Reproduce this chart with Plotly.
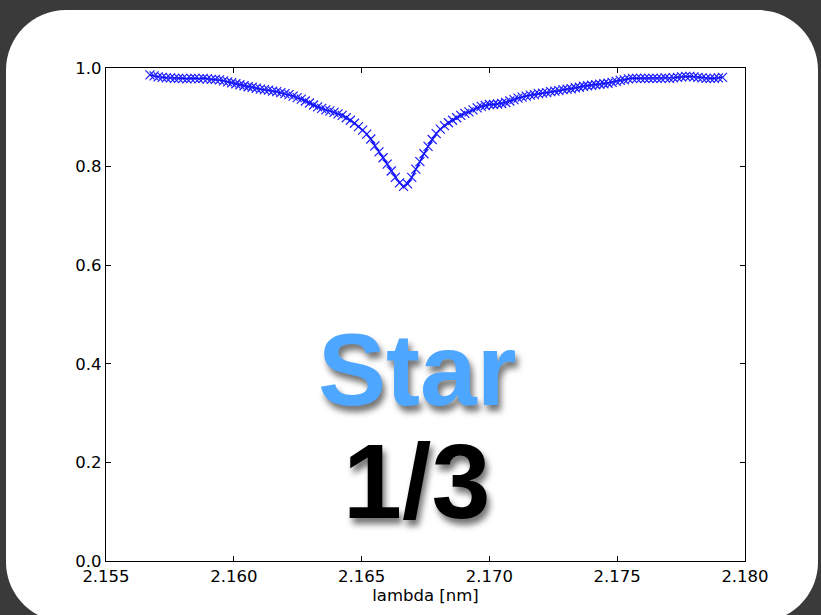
import plotly.graph_objects as go

# ---- data ----
wavelength_nm = [
    2.15672, 2.15688, 2.15704, 2.15720, 2.15736, 2.15752, 2.15768, 2.15784, 2.15800, 2.15816,
    2.15832, 2.15848, 2.15864, 2.15880, 2.15896, 2.15912, 2.15928, 2.15944, 2.15960, 2.15976,
    2.15992, 2.16008, 2.16024, 2.16040, 2.16056, 2.16072, 2.16088, 2.16104, 2.16120, 2.16136,
    2.16152, 2.16168, 2.16184, 2.16200, 2.16216, 2.16232, 2.16248, 2.16264, 2.16280, 2.16296,
    2.16312, 2.16328, 2.16344, 2.16360, 2.16376, 2.16392, 2.16408, 2.16424, 2.16440, 2.16456,
    2.16472, 2.16488, 2.16504, 2.16520, 2.16536, 2.16552, 2.16568, 2.16584, 2.16600, 2.16616,
    2.16632, 2.16648, 2.16664, 2.16680, 2.16696, 2.16712, 2.16728, 2.16744, 2.16760, 2.16776,
    2.16792, 2.16808, 2.16824, 2.16840, 2.16856, 2.16872, 2.16888, 2.16904, 2.16920, 2.16936,
    2.16952, 2.16968, 2.16984, 2.17000, 2.17016, 2.17032, 2.17048, 2.17064, 2.17080, 2.17096,
    2.17112, 2.17128, 2.17144, 2.17160, 2.17176, 2.17192, 2.17208, 2.17224, 2.17240, 2.17256,
    2.17272, 2.17288, 2.17304, 2.17320, 2.17336, 2.17352, 2.17368, 2.17384, 2.17400, 2.17416,
    2.17432, 2.17448, 2.17464, 2.17480, 2.17496, 2.17512, 2.17528, 2.17544, 2.17560, 2.17576,
    2.17592, 2.17608, 2.17624, 2.17640, 2.17656, 2.17672, 2.17688, 2.17704, 2.17720, 2.17736,
    2.17752, 2.17768, 2.17784, 2.17800, 2.17816, 2.17832, 2.17848, 2.17864, 2.17880, 2.17896,
    2.17912,
]

flux = [
    0.986, 0.984, 0.982, 0.981, 0.980, 0.980, 0.979, 0.979, 0.979, 0.978,
    0.979, 0.979, 0.978, 0.979, 0.978, 0.977, 0.977, 0.976, 0.974, 0.972,
    0.970, 0.968, 0.966, 0.964, 0.962, 0.961, 0.959, 0.957, 0.956, 0.955,
    0.953, 0.952, 0.950, 0.948, 0.946, 0.943, 0.940, 0.937, 0.933, 0.929,
    0.925, 0.921, 0.918, 0.915, 0.913, 0.910, 0.907, 0.904, 0.899, 0.894,
    0.888, 0.881, 0.874, 0.866, 0.856, 0.842, 0.830, 0.818, 0.805, 0.791,
    0.778, 0.767, 0.760, 0.765, 0.778, 0.795, 0.810, 0.826, 0.841, 0.855,
    0.867, 0.876, 0.883, 0.889, 0.894, 0.899, 0.904, 0.908, 0.911, 0.915,
    0.919, 0.922, 0.924, 0.926, 0.926, 0.927, 0.928, 0.930, 0.933, 0.936,
    0.939, 0.941, 0.943, 0.945, 0.946, 0.948, 0.949, 0.950, 0.952, 0.953,
    0.954, 0.956, 0.957, 0.958, 0.960, 0.961, 0.963, 0.964, 0.965, 0.966,
    0.967, 0.968, 0.969, 0.971, 0.973, 0.975, 0.976, 0.978, 0.979, 0.979,
    0.979, 0.979, 0.979, 0.979, 0.979, 0.979, 0.980, 0.979, 0.980, 0.981,
    0.982, 0.983, 0.983, 0.982, 0.981, 0.980, 0.979, 0.979, 0.979, 0.980,
    0.981,
]

x_ticks = [2.155, 2.160, 2.165, 2.170, 2.175, 2.180]
y_ticks = [0.0, 0.2, 0.4, 0.6, 0.8, 1.0]
x_title = "lambda [nm]"
overlay_title = "Star"
overlay_sub = "1/3"

# ---- layout geometry (pixels) ----
W, H = 821, 615
L, R, T, B = 106, 745, 68, 561
pw, ph = R - L, B - T


def px(xp):
    return (xp - L) / pw


def py(yp):
    return (B - yp) / ph


def rounded_rect(x0, y0, x1, y1, r):
    k = 0.5523 * r
    pts = []
    pts.append(f"M {px(x0 + r)} {py(y0)}")
    pts.append(f"L {px(x1 - r)} {py(y0)}")
    pts.append(f"C {px(x1 - r + k)} {py(y0)} {px(x1)} {py(y0 + r - k)} {px(x1)} {py(y0 + r)}")
    pts.append(f"L {px(x1)} {py(y1 - r)}")
    pts.append(f"C {px(x1)} {py(y1 - r + k)} {px(x1 - r + k)} {py(y1)} {px(x1 - r)} {py(y1)}")
    pts.append(f"L {px(x0 + r)} {py(y1)}")
    pts.append(f"C {px(x0 + r - k)} {py(y1)} {px(x0)} {py(y1 - r + k)} {px(x0)} {py(y1 - r)}")
    pts.append(f"L {px(x0)} {py(y0 + r)}")
    pts.append(f"C {px(x0)} {py(y0 + r - k)} {px(x0 + r - k)} {py(y0)} {px(x0 + r)} {py(y0)}")
    pts.append("Z")
    return " ".join(pts)


fig = go.Figure()
fig.add_trace(go.Scatter(
    x=wavelength_nm, y=flux, mode="lines+markers",
    line=dict(color="#0000ff", width=1.5),
    marker=dict(symbol="x-thin", size=9, color="#1a1aff",
                line=dict(width=1.2, color="#1a1aff")),
    showlegend=False, hoverinfo="skip",
))

fig.add_shape(type="path", xref="paper", yref="paper",
              path=rounded_rect(6, 10, 818, 622, 60),
              fillcolor="white", line=dict(width=0), layer="below")

font_ticks = dict(family="DejaVu Sans", size=16.5, color="black")

fig.update_layout(
    width=W, height=H,
    margin=dict(l=L, r=W - R, t=T, b=H - B, autoexpand=False),
    paper_bgcolor="#3a3a3a",
    plot_bgcolor="white",
    xaxis=dict(
        range=[2.155, 2.180], tickvals=x_ticks,
        ticktext=[f"{v:.3f}" for v in x_ticks],
        ticks="inside", ticklen=5, tickwidth=1, tickcolor="black",
        showline=True, linecolor="black", linewidth=1.2, mirror="allticks",
        showgrid=False, zeroline=False, tickfont=font_ticks,
        title=dict(text=x_title, font=font_ticks, standoff=2),
    ),
    yaxis=dict(
        range=[0, 1], tickvals=y_ticks,
        ticktext=[f"{v:.1f}" for v in y_ticks],
        ticks="inside", ticklen=5, tickwidth=1, tickcolor="black",
        showline=True, linecolor="black", linewidth=1.2, mirror="allticks",
        showgrid=False, zeroline=False, tickfont=font_ticks,
    ),
)

fig.add_annotation(
    x=px(417), y=py(370), xref="paper", yref="paper",
    text=f"<b>{overlay_title}</b>", showarrow=False,
    xanchor="center", yanchor="middle",
    font=dict(family="Liberation Sans", size=102, color="#4da6ff",
              shadow="3px 6px 6px rgba(0,0,0,0.55)"),
)
fig.add_annotation(
    x=px(416), y=py(481), xref="paper", yref="paper",
    text=f"<b>{overlay_sub}</b>", showarrow=False,
    xanchor="center", yanchor="middle",
    font=dict(family="Liberation Sans", size=106, color="black",
              shadow="3px 6px 6px rgba(0,0,0,0.55)"),
)

fig.write_html(
    "out.html",
    config={"displayModeBar": False},
    post_script="document.body.style.margin='0';document.body.style.background='#3a3a3a';",
)
